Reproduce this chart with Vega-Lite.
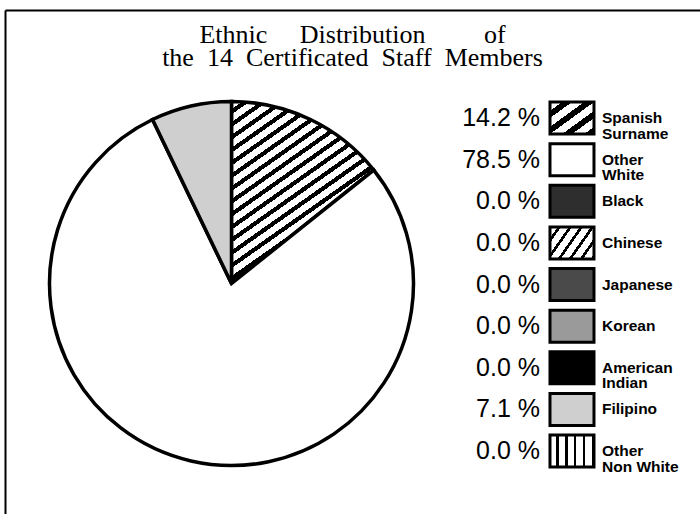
{
  "$schema": "https://vega.github.io/schema/vega-lite/v6.json",
  "width": 695,
  "height": 504,
  "padding": {"left": 5, "top": 10, "right": 0, "bottom": 0},
  "autosize": {"type": "none"},
  "background": "white",
  "config": {"view": {"stroke": null}},
  "title": {
    "text": ["\u00a0Ethnic\u00a0\u00a0\u00a0\u00a0\u00a0Distribution\u00a0\u00a0\u00a0\u00a0\u00a0\u00a0\u00a0\u00a0\u00a0of", "the\u00a0\u00a014\u00a0\u00a0Certificated\u00a0\u00a0Staff\u00a0\u00a0Members"],
    "font": "Liberation Serif",
    "fontSize": 26,
    "fontWeight": "normal",
    "color": "black",
    "lineHeight": 23.5,
    "anchor": "middle",
    "frame": "group",
    "baseline": "top",
    "offset": -61
  },
  "data": {
    "values": [
      {"category": "Spanish Surname", "label": "Spanish\nSurname", "pct": "14.2 %", "count": 2, "rank": 1},
      {"category": "Other White", "label": "Other\nWhite", "pct": "78.5 %", "count": 11, "rank": 2},
      {"category": "Black", "label": "Black", "pct": "0.0 %", "count": 0, "rank": 3},
      {"category": "Chinese", "label": "Chinese", "pct": "0.0 %", "count": 0, "rank": 4},
      {"category": "Japanese", "label": "Japanese", "pct": "0.0 %", "count": 0, "rank": 5},
      {"category": "Korean", "label": "Korean", "pct": "0.0 %", "count": 0, "rank": 6},
      {"category": "American Indian", "label": "American\nIndian", "pct": "0.0 %", "count": 0, "rank": 7},
      {"category": "Filipino", "label": "Filipino", "pct": "7.1 %", "count": 1, "rank": 8},
      {"category": "Other Non White", "label": "Other\nNon White", "pct": "0.0 %", "count": 0, "rank": 9}
    ]
  },
  "resolve": {"scale": {"y": "independent"}, "axis": {"y": "independent"}},
  "layer": [
    {
      "transform": [{"filter": "datum.count > 0"}],
      "mark": {"type": "arc", "outerRadius": 182, "stroke": "black", "strokeWidth": 3.5},
      "encoding": {
        "theta": {"field": "count", "type": "quantitative", "stack": true},
        "order": {"field": "rank", "type": "quantitative"},
        "x": {"datum": "pie", "type": "nominal", "scale": {"type": "point", "domain": ["pie", "legend"], "padding": 0.5206, "align": 0.6389}, "axis": {"orient": "top", "domain": true, "domainColor": "black", "domainWidth": 2, "ticks": false, "labels": false, "grid": false, "title": null}},
        "y": {"datum": "pie", "type": "nominal", "scale": {"type": "point", "domain": ["pie"], "padding": 1, "align": 0.5427}, "axis": null},
        "fill": {
          "condition": {"test": "datum.category === 'Spanish Surname'", "value": {"gradient": "linear", "x1": 0, "y1": 0, "x2": 0.655, "y2": 1.19, "stops": [
            {"offset": 0, "color": "white"}, {"offset": 0.0273, "color": "white"}, {"offset": 0.0273, "color": "black"}, {"offset": 0.0455, "color": "black"},
            {"offset": 0.0455, "color": "white"}, {"offset": 0.0727, "color": "white"}, {"offset": 0.0727, "color": "black"}, {"offset": 0.0909, "color": "black"},
            {"offset": 0.0909, "color": "white"}, {"offset": 0.1182, "color": "white"}, {"offset": 0.1182, "color": "black"}, {"offset": 0.1364, "color": "black"},
            {"offset": 0.1364, "color": "white"}, {"offset": 0.1636, "color": "white"}, {"offset": 0.1636, "color": "black"}, {"offset": 0.1818, "color": "black"},
            {"offset": 0.1818, "color": "white"}, {"offset": 0.2091, "color": "white"}, {"offset": 0.2091, "color": "black"}, {"offset": 0.2273, "color": "black"},
            {"offset": 0.2273, "color": "white"}, {"offset": 0.2545, "color": "white"}, {"offset": 0.2545, "color": "black"}, {"offset": 0.2727, "color": "black"},
            {"offset": 0.2727, "color": "white"}, {"offset": 0.3, "color": "white"}, {"offset": 0.3, "color": "black"}, {"offset": 0.3182, "color": "black"},
            {"offset": 0.3182, "color": "white"}, {"offset": 0.3455, "color": "white"}, {"offset": 0.3455, "color": "black"}, {"offset": 0.3636, "color": "black"},
            {"offset": 0.3636, "color": "white"}, {"offset": 0.3909, "color": "white"}, {"offset": 0.3909, "color": "black"}, {"offset": 0.4091, "color": "black"},
            {"offset": 0.4091, "color": "white"}, {"offset": 0.4364, "color": "white"}, {"offset": 0.4364, "color": "black"}, {"offset": 0.4545, "color": "black"},
            {"offset": 0.4545, "color": "white"}, {"offset": 0.4818, "color": "white"}, {"offset": 0.4818, "color": "black"}, {"offset": 0.5, "color": "black"},
            {"offset": 0.5, "color": "white"}, {"offset": 0.5273, "color": "white"}, {"offset": 0.5273, "color": "black"}, {"offset": 0.5455, "color": "black"},
            {"offset": 0.5455, "color": "white"}, {"offset": 0.5727, "color": "white"}, {"offset": 0.5727, "color": "black"}, {"offset": 0.5909, "color": "black"},
            {"offset": 0.5909, "color": "white"}, {"offset": 0.6182, "color": "white"}, {"offset": 0.6182, "color": "black"}, {"offset": 0.6364, "color": "black"},
            {"offset": 0.6364, "color": "white"}, {"offset": 0.6636, "color": "white"}, {"offset": 0.6636, "color": "black"}, {"offset": 0.6818, "color": "black"},
            {"offset": 0.6818, "color": "white"}, {"offset": 0.7091, "color": "white"}, {"offset": 0.7091, "color": "black"}, {"offset": 0.7273, "color": "black"},
            {"offset": 0.7273, "color": "white"}, {"offset": 0.7545, "color": "white"}, {"offset": 0.7545, "color": "black"}, {"offset": 0.7727, "color": "black"},
            {"offset": 0.7727, "color": "white"}, {"offset": 0.8, "color": "white"}, {"offset": 0.8, "color": "black"}, {"offset": 0.8182, "color": "black"},
            {"offset": 0.8182, "color": "white"}, {"offset": 0.8455, "color": "white"}, {"offset": 0.8455, "color": "black"}, {"offset": 0.8636, "color": "black"},
            {"offset": 0.8636, "color": "white"}, {"offset": 0.8909, "color": "white"}, {"offset": 0.8909, "color": "black"}, {"offset": 0.9091, "color": "black"},
            {"offset": 0.9091, "color": "white"}, {"offset": 0.9364, "color": "white"}, {"offset": 0.9364, "color": "black"}, {"offset": 0.9545, "color": "black"},
            {"offset": 0.9545, "color": "white"}, {"offset": 0.9818, "color": "white"}, {"offset": 0.9818, "color": "black"}, {"offset": 1, "color": "black"}
          ]}},
          "field": "category",
          "type": "nominal",
          "scale": {
            "domain": ["Spanish Surname", "Other White", "Black", "Chinese", "Japanese", "Korean", "American Indian", "Filipino", "Other Non White"],
            "range": ["#8c8c8c", "white", "#2e2e2e", "#aaaaaa", "#4a4a4a", "#9a9a9a", "black", "#cfcfcf", "#aaaaaa"]
          },
          "legend": null
        }
      }
    },
    {
      "encoding": {
        "x": {"datum": "legend", "type": "nominal", "scale": {"type": "point", "domain": ["pie", "legend"], "padding": 0.5206, "align": 0.6389}, "axis": {"orient": "top", "domain": true, "domainColor": "black", "domainWidth": 2, "ticks": false, "labels": false, "grid": false, "title": null}},
        "y": {"field": "rank", "type": "quantitative", "scale": {"domain": [-1.5946, 10.513], "reverse": true, "nice": false, "zero": false}, "axis": {"orient": "left", "domain": true, "domainColor": "black", "domainWidth": 2, "ticks": false, "labels": false, "grid": false, "title": null}}
      },
      "layer": [
        {
          "mark": {"type": "text", "align": "right", "baseline": "middle", "dx": -32, "font": "Liberation Sans", "fontSize": 25, "color": "black"},
          "encoding": {"text": {"field": "pct", "type": "nominal"}}
        },
        {
          "mark": {"type": "point", "shape": "M-1,-0.727L1,-0.727L1,0.727L-1,0.727Z", "size": 1936, "filled": true, "stroke": "black", "strokeWidth": 3, "opacity": 1, "fillOpacity": 1, "strokeOpacity": 1},
          "encoding": {
            "fill": {
              "condition": [
                {"test": "datum.category === 'Spanish Surname'", "value": {"gradient": "linear", "x1": 0, "y1": 0, "x2": 1, "y2": 1, "stops": [
                  {"offset": 0, "color": "white"}, {"offset": 0.1375, "color": "white"}, {"offset": 0.1375, "color": "black"}, {"offset": 0.25, "color": "black"},
                  {"offset": 0.25, "color": "white"}, {"offset": 0.3875, "color": "white"}, {"offset": 0.3875, "color": "black"}, {"offset": 0.5, "color": "black"},
                  {"offset": 0.5, "color": "white"}, {"offset": 0.6375, "color": "white"}, {"offset": 0.6375, "color": "black"}, {"offset": 0.75, "color": "black"},
                  {"offset": 0.75, "color": "white"}, {"offset": 0.8875, "color": "white"}, {"offset": 0.8875, "color": "black"}, {"offset": 1, "color": "black"}
                ]}},
                {"test": "datum.category === 'Chinese'", "value": {"gradient": "linear", "x1": 0, "y1": 0, "x2": 1.198, "y2": 0.611, "stops": [
                  {"offset": 0, "color": "white"}, {"offset": 0.1167, "color": "white"}, {"offset": 0.1167, "color": "black"}, {"offset": 0.1667, "color": "black"},
                  {"offset": 0.1667, "color": "white"}, {"offset": 0.2833, "color": "white"}, {"offset": 0.2833, "color": "black"}, {"offset": 0.3333, "color": "black"},
                  {"offset": 0.3333, "color": "white"}, {"offset": 0.45, "color": "white"}, {"offset": 0.45, "color": "black"}, {"offset": 0.5, "color": "black"},
                  {"offset": 0.5, "color": "white"}, {"offset": 0.6167, "color": "white"}, {"offset": 0.6167, "color": "black"}, {"offset": 0.6667, "color": "black"},
                  {"offset": 0.6667, "color": "white"}, {"offset": 0.7833, "color": "white"}, {"offset": 0.7833, "color": "black"}, {"offset": 0.8333, "color": "black"},
                  {"offset": 0.8333, "color": "white"}, {"offset": 0.95, "color": "white"}, {"offset": 0.95, "color": "black"}, {"offset": 1, "color": "black"}
                ]}},
                {"test": "datum.category === 'Other Non White'", "value": {"gradient": "linear", "x1": 0, "y1": 0, "x2": 1, "y2": 0, "stops": [
                  {"offset": 0, "color": "white"}, {"offset": 0.144, "color": "white"}, {"offset": 0.144, "color": "black"}, {"offset": 0.2, "color": "black"},
                  {"offset": 0.2, "color": "white"}, {"offset": 0.344, "color": "white"}, {"offset": 0.344, "color": "black"}, {"offset": 0.4, "color": "black"},
                  {"offset": 0.4, "color": "white"}, {"offset": 0.544, "color": "white"}, {"offset": 0.544, "color": "black"}, {"offset": 0.6, "color": "black"},
                  {"offset": 0.6, "color": "white"}, {"offset": 0.744, "color": "white"}, {"offset": 0.744, "color": "black"}, {"offset": 0.8, "color": "black"},
                  {"offset": 0.8, "color": "white"}, {"offset": 0.944, "color": "white"}, {"offset": 0.944, "color": "black"}, {"offset": 1, "color": "black"}
                ]}}
              ],
              "field": "category",
              "type": "nominal",
              "scale": {
                "domain": ["Spanish Surname", "Other White", "Black", "Chinese", "Japanese", "Korean", "American Indian", "Filipino", "Other Non White"],
                "range": ["#8c8c8c", "white", "#2e2e2e", "#aaaaaa", "#4a4a4a", "#9a9a9a", "black", "#cfcfcf", "#aaaaaa"]
              },
              "legend": null
            }
          }
        },
        {
          "mark": {"type": "text", "align": "left", "baseline": "middle", "dx": 30, "font": "Liberation Sans", "fontSize": 15.5, "fontWeight": "bold", "lineBreak": "\n", "lineHeight": 15.5, "color": "black"},
          "encoding": {"text": {"field": "label", "type": "nominal"}}
        }
      ]
    }
  ]
}
